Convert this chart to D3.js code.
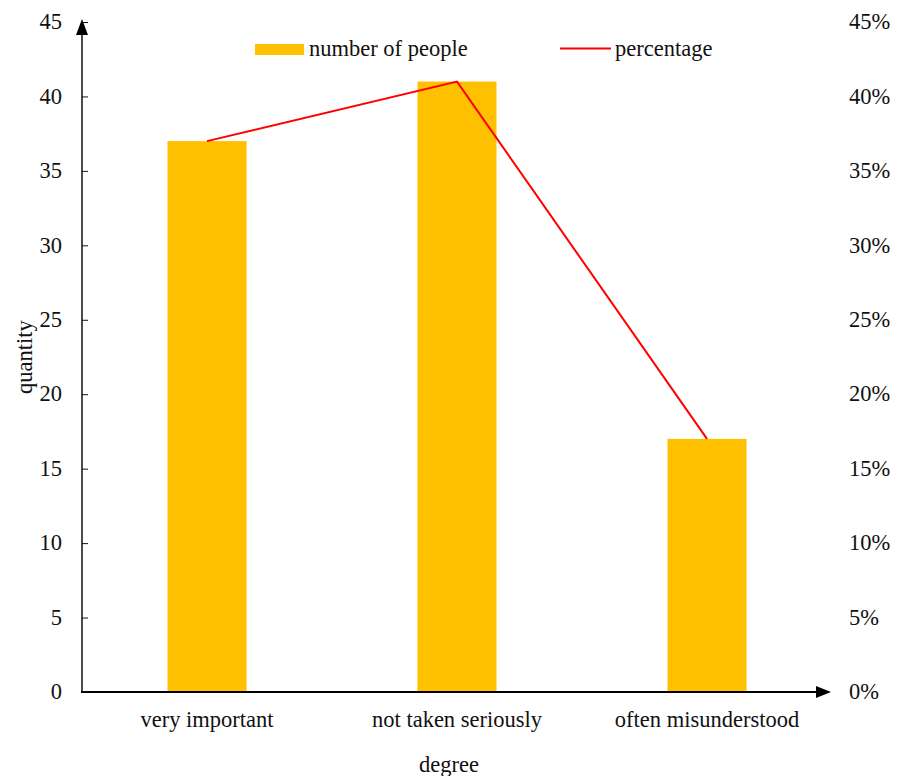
<!DOCTYPE html>
<html>
<head>
<meta charset="utf-8">
<script src="https://cdn.jsdelivr.net/npm/d3@7"></script>
<style>
  body { margin: 0; background: #fff; }
  svg text { font-family: "Liberation Serif", "Times New Roman", serif; fill: #111; }
</style>
</head>
<body>
<svg id="chart" width="905" height="776"></svg>
<script>
// Survey results: how the topic is regarded
const categories = ["very important", "not taken seriously", "often misunderstood"];
const people = [37, 41, 17];
const percentage = [0.37, 0.41, 0.17];
const leftTicks = [0, 5, 10, 15, 20, 25, 30, 35, 40, 45];
const rightTicks = [0, 0.05, 0.10, 0.15, 0.20, 0.25, 0.30, 0.35, 0.40, 0.45];

const svg = d3.select("#chart");
const plotL = 82, plotR = 832, plotT = 22, plotB = 692;
const fs = 22.5;

const x = d3.scaleBand().domain(categories).range([plotL, plotR]);
const y = d3.scaleLinear().domain([0, 45]).range([plotB, plotT]);
const yPct = d3.scaleLinear().domain([0, 0.45]).range([plotB, plotT]);
const barW = 79;

// Bars
svg.append("g").selectAll("rect").data(categories).join("rect")
  .attr("x", d => x(d) + x.bandwidth() / 2 - barW / 2)
  .attr("y", (d, i) => y(people[i]))
  .attr("width", barW)
  .attr("height", (d, i) => plotB - y(people[i]))
  .attr("fill", "#FFC000");

// Percentage line
const line = d3.line()
  .x((d, i) => x(categories[i]) + x.bandwidth() / 2)
  .y(d => yPct(d));
svg.append("path").datum(percentage)
  .attr("d", line)
  .attr("fill", "none")
  .attr("stroke", "#FF0000")
  .attr("stroke-width", 2);

// Left axis
const yAxis = d3.axisRight(y).tickValues(leftTicks).tickSize(6).tickFormat(d3.format("d"));
const gy = svg.append("g").attr("transform", `translate(${plotL},0)`).call(yAxis);
gy.select(".domain").remove();
gy.selectAll(".tick line").attr("stroke", "#111");
gy.selectAll(".tick text").attr("x", -20).attr("text-anchor", "end")
  .attr("font-size", fs).attr("dy", "0.3em");
svg.append("line").attr("x1", plotL).attr("x2", plotL).attr("y1", plotB + 1).attr("y2", plotT + 8)
  .attr("stroke", "#111").attr("stroke-width", 1.5);
svg.append("path").attr("d", `M${plotL - 6},${plotT + 13} L${plotL},${plotT - 3} L${plotL + 6},${plotT + 13} Z`)
  .attr("fill", "#000");

// Right axis (labels only)
const yAxisR = d3.axisRight(yPct).tickValues(rightTicks).tickSize(0).tickFormat(d3.format(".0%"));
const gr = svg.append("g").attr("transform", `translate(849,0)`).call(yAxisR);
gr.select(".domain").remove();
gr.selectAll(".tick text").attr("x", 0).attr("text-anchor", "start")
  .attr("font-size", fs).attr("dy", "0.3em");

// X axis
svg.append("line").attr("x1", plotL - 1).attr("x2", plotR - 8).attr("y1", plotB).attr("y2", plotB)
  .attr("stroke", "#000").attr("stroke-width", 2);
svg.append("path").attr("d", `M${plotR - 16},${plotB - 6} L${plotR - 1},${plotB} L${plotR - 16},${plotB + 6} Z`)
  .attr("fill", "#000");
const xAxis = d3.axisBottom(x).tickSize(0);
const gx = svg.append("g").attr("transform", `translate(0,${plotB})`).call(xAxis);
gx.select(".domain").remove();
gx.selectAll(".tick text").attr("font-size", fs).attr("dy", 0).attr("y", 35);

// Axis titles
svg.append("text").attr("transform", "translate(32,357) rotate(-90)")
  .attr("text-anchor", "middle").attr("font-size", fs).text("quantity");
svg.append("text").attr("x", 449).attr("y", 772)
  .attr("text-anchor", "middle").attr("font-size", fs).text("degree");

// Legend
svg.append("rect").attr("x", 255).attr("y", 44).attr("width", 49).attr("height", 11).attr("fill", "#FFC000");
svg.append("text").attr("x", 309).attr("y", 56).attr("font-size", fs).text("number of people");
svg.append("line").attr("x1", 560).attr("x2", 611).attr("y1", 48.5).attr("y2", 48.5)
  .attr("stroke", "#FF0000").attr("stroke-width", 2);
svg.append("text").attr("x", 615).attr("y", 56).attr("font-size", fs).text("percentage");
</script>
</body>
</html>
